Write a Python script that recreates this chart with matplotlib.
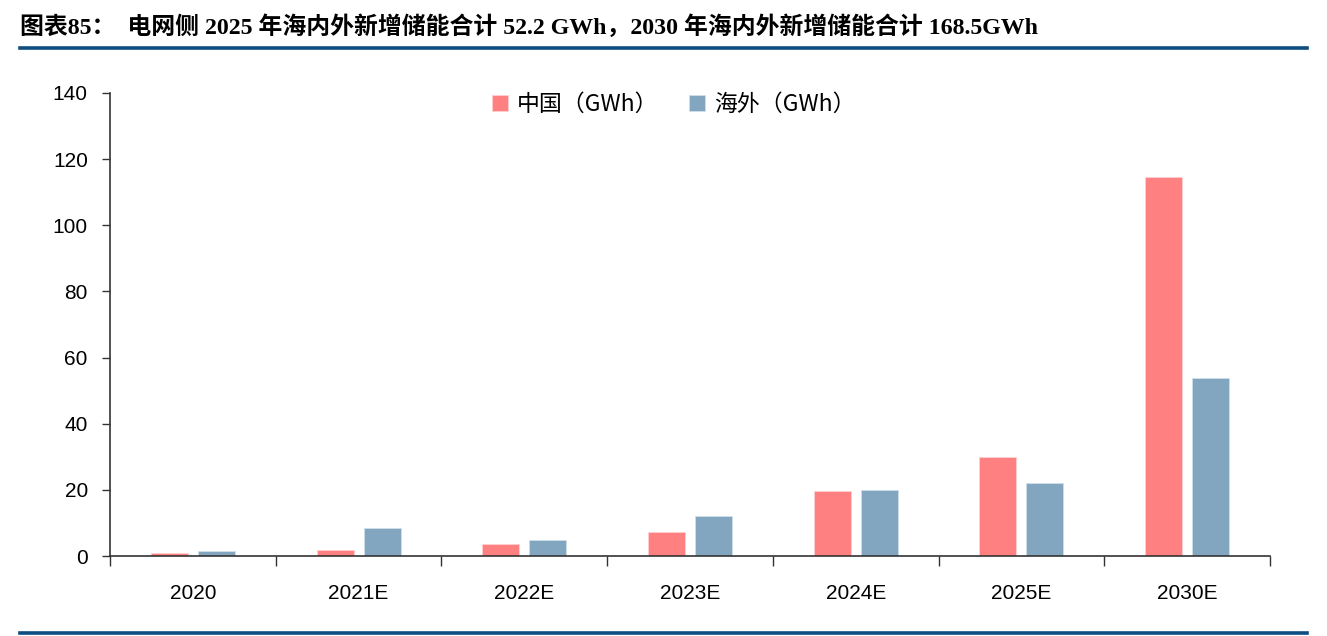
import matplotlib
matplotlib.use("Agg")
import matplotlib.pyplot as plt
from matplotlib.lines import Line2D
import numpy as np

categories = ["2020", "2021E", "2022E", "2023E", "2024E", "2025E", "2030E"]
china = [0.8, 1.8, 3.5, 7.3, 19.7, 30.0, 114.7]
overseas = [1.6, 8.5, 4.8, 12.1, 20.0, 22.2, 53.8]
series_names = ["中国（GWh）", "海外（GWh）"]
yticks = [0, 20, 40, 60, 80, 100, 120, 140]
title = "图表85：  电网侧 2025 年海内外新增储能合计 52.2 GWh，2030 年海内外新增储能合计 168.5GWh"

red = "#FF8080"
blue = "#82A6BF"
line_blue = "#0E4D80"

fig = plt.figure(figsize=(13.27, 6.36), dpi=100)
ax = fig.add_axes([110/1327, 1-556/636, (1270-110)/1327, (556-93)/636])

x = np.arange(len(categories))
w = 0.223
off = 0.142
ax.bar(x - off, china, width=w, color=red, edgecolor="#FFD0D0", linewidth=0.6, label=series_names[0], zorder=2)
ax.bar(x + off, overseas, width=w, color=blue, edgecolor="#D0E0EA", linewidth=0.6, label=series_names[1], zorder=2)

ax.set_xlim(-0.5, len(categories) - 0.5)
ax.set_ylim(0, 140)
ax.set_yticks(yticks)
ax.set_yticklabels([str(v) for v in yticks], fontsize=15, family=["Liberation Sans", "DejaVu Sans"])
ax.set_xticks(np.arange(-0.5, len(categories), 1.0))
ax.set_xticklabels([])
ax.set_xticks(x, minor=True)
ax.set_xticklabels(categories, minor=True, fontsize=15, family=["Liberation Sans", "DejaVu Sans"])
ax.tick_params(axis="x", which="minor", length=0, pad=20)
ax.tick_params(axis="x", which="major", direction="out", length=7, width=1, color="#333333")
ax.tick_params(axis="y", direction="out", length=6, width=1, color="#333333", pad=10)

for s in ["top", "right"]:
    ax.spines[s].set_visible(False)
for s in ["left", "bottom"]:
    ax.spines[s].set_color("#333333")
    ax.spines[s].set_linewidth(1.2)

leg = ax.legend(loc="upper center", bbox_to_anchor=(0.486, 1.045), ncol=2, frameon=False,
                prop={"family": ["Noto Sans CJK SC", "DejaVu Sans"], "size": 16.5},
                handlelength=0.7, handleheight=0.7, columnspacing=1.35, handletextpad=0.4)

fig.text(20/1327, 1-27/636, title, fontsize=17.2, fontweight="bold",
         family=["Liberation Serif", "Noto Sans CJK SC"], va="center", ha="left", color="black")

fig.add_artist(Line2D([20/1327, 1307/1327], [1-47.5/636, 1-47.5/636], color=line_blue, linewidth=2.6))
fig.add_artist(Line2D([20/1327, 1307/1327], [1-633/636, 1-633/636], color=line_blue, linewidth=2.6))

fig.savefig("out.png", dpi=100)
